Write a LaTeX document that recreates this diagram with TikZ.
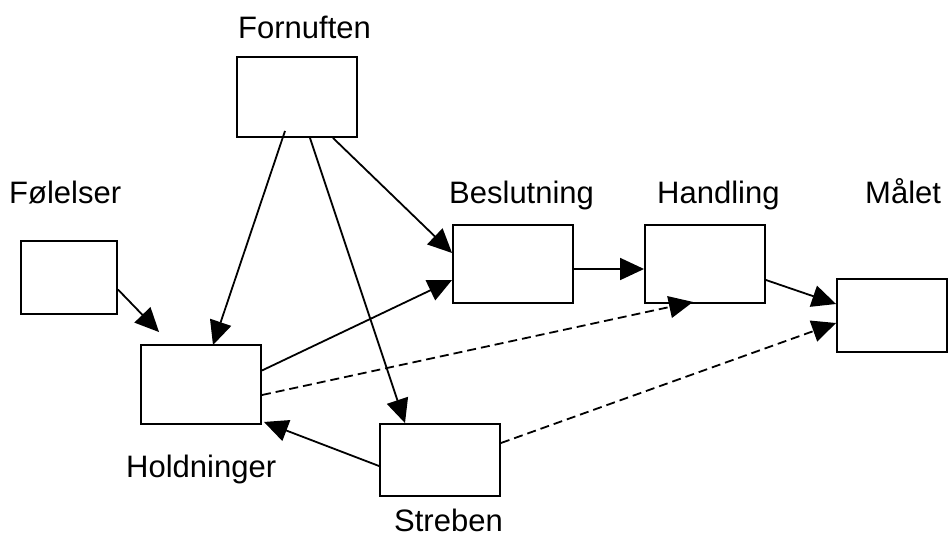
\documentclass[tikz,border=0pt]{standalone}
\usepackage{fontspec}
\setmainfont{Liberation Sans}
\usetikzlibrary{arrows.meta,calc}
\begin{document}
\begin{tikzpicture}[x=1pt,y=-1pt,
  box/.style={draw,line width=1.9pt,rectangle,inner sep=0pt},
  lbl/.style={anchor=base west,inner sep=0pt,font=\fontsize{31}{36}\selectfont},
  conn/.style={line width=1.8pt,-{Triangle[length=24pt,width=22pt]}},
  dashconn/.style={conn,dash pattern=on 9pt off 5pt}]
\useasboundingbox (0,0) rectangle (948,536);
% boxes
\node[box,minimum width=120pt,minimum height=80pt] (forn) at (297,97) {};
\node[box,minimum width=96pt,minimum height=73pt] (fol) at (69,277.5) {};
\node[box,minimum width=120pt,minimum height=79pt] (hold) at (201,384.5) {};
\node[box,minimum width=120pt,minimum height=78pt] (besl) at (513,264) {};
\node[box,minimum width=120pt,minimum height=78pt] (hand) at (705,264) {};
\node[box,minimum width=110pt,minimum height=73pt] (malet) at (892,315.5) {};
\node[box,minimum width=120pt,minimum height=72pt] (streb) at (440,460) {};
% labels
\node[lbl] (lforn) at (238,38) {Fornuften};
\node[lbl] (lfol) at (9,203) {Følelser};
\node[lbl] (lbesl) at (449,203) {Beslutning};
\node[lbl] (lhand) at (657,203) {Handling};
\node[lbl] (lmalet) at (865,203) {Målet};
\node[lbl] (lhold) at (126,477) {Holdninger};
\node[lbl] (lstreb) at (394,531) {Streben};
% connectors
\draw[conn] ($(forn.south)+(-12,-7)$) -- ($(hold.north)+(12,1)$);
\draw[conn] ($(forn.south)+(13,0)$) -- ($(streb.north)+(-35,0)$);
\draw[conn] ($(forn.south)+(36,0)$) -- ($(besl.west)+(0,-11)$);
\draw[conn] ($(fol.east)+(0,12)$) -- ($(hold.north west)+(19,-12)$);
\draw[conn] ($(hold.east)+(0,-14)$) -- ($(besl.west)+(0,16)$);
\draw[dashconn] ($(hold.east)+(0,10.5)$) -- ($(hand.south)+(-12,-2)$);
\draw[conn] ($(streb.west)+(0,6)$) -- ($(hold.south east)+(2,-3)$);
\draw[dashconn] ($(streb.east)+(0,-17)$) -- ($(malet.west)+(0,7.5)$);
\draw[conn] ($(besl.east)+(0,5)$) -- ($(hand.west)+(0,5)$);
\draw[conn] ($(hand.east)+(0,16)$) -- ($(malet.west)+(0,-11.5)$);
\end{tikzpicture}
\end{document}
